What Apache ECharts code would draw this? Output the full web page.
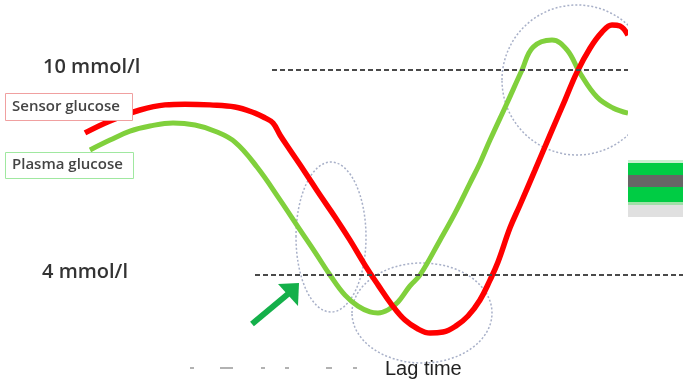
<!DOCTYPE html>
<html>
<head>
<meta charset="utf-8">
<script src="https://cdn.jsdelivr.net/npm/echarts@6/dist/echarts.min.js"></script>
<style>
  html, body { margin: 0; padding: 0; background: #fff; }
  #chart { width: 683px; height: 385px; }
</style>
</head>
<body>
<div id="chart"></div>
<script>
// time (arbitrary units) and glucose (mmol/l)
var sensorTime = [85, 110, 140, 165, 185, 210, 235, 255, 265, 273, 280, 290, 305, 320, 335, 350, 365, 378, 392, 405,
  418, 430, 443, 456, 468, 480, 490, 498, 510, 520, 535, 550, 565, 577, 590, 602, 612, 620, 628];
var sensorGlucose = [8.16, 8.51, 8.83, 8.98, 9.00, 8.98, 8.92, 8.74, 8.60, 8.45, 8.10, 7.66, 7.01, 6.34, 5.70, 5.02, 4.29, 3.71, 3.12, 2.68,
  2.42, 2.30, 2.33, 2.51, 2.80, 3.27, 3.85, 4.38, 5.38, 6.05, 7.07, 8.10, 9.12, 9.94, 10.64, 11.11, 11.32, 11.29, 11.02];

var plasmaTime = [90, 110, 130, 150, 173, 195, 215, 235, 257, 280, 300, 315, 330, 345, 358, 370, 378, 388, 398, 410,
  420, 440, 455, 470, 480, 490, 507, 522, 533, 552, 567, 580, 597, 613, 628];
var plasmaGlucose = [7.66, 7.95, 8.21, 8.36, 8.45, 8.39, 8.21, 7.89, 7.16, 6.20, 5.32, 4.67, 4.00, 3.41, 3.09, 2.92, 2.89, 2.98, 3.21, 3.68,
  4.00, 5.02, 5.81, 6.69, 7.28, 7.95, 9.03, 10.00, 10.67, 10.88, 10.59, 9.91, 9.21, 8.89, 8.74];

// threshold lines: [level, start time, end time]
var thresholds = [[10, 272, 628], [4, 255, 683]];
var thresholdLabels = ["10 mmol/l", "4 mmol/l"];

function zip(xs, ys) {
  return xs.map(function (x, i) { return [x, ys[i]]; });
}

var myChart = echarts.init(document.getElementById("chart"));

var option = {
  animation: false,
  backgroundColor: "#ffffff",
  grid: { left: 0, right: 0, top: 0, bottom: 0 },
  xAxis: { type: "value", min: 0, max: 683, show: false },
  yAxis: { type: "value", min: 0.78, max: 12.05, show: false },
  series: [
    {
      name: "Plasma glucose",
      type: "line",
      data: zip(plasmaTime, plasmaGlucose),
      smooth: 0.4,
      showSymbol: false,
      z: 3,
      lineStyle: { color: "#80d03c", width: 5 },
      markLine: {
        silent: true,
        symbol: "none",
        label: { show: false },
        lineStyle: { color: "#4a4a4a", type: [5, 3], width: 2 },
        data: thresholds.map(function (t) {
          return [{ coord: [t[1], t[0]] }, { coord: [t[2], t[0]] }];
        })
      }
    },
    {
      name: "Sensor glucose",
      type: "line",
      data: zip(sensorTime, sensorGlucose),
      smooth: 0.4,
      showSymbol: false,
      z: 4,
      lineStyle: { color: "#ff0000", width: 5.5 }
    }
  ],
  graphic: [
    // dotted rings
    { type: "ellipse", z: 1, shape: { cx: 331, cy: 237, rx: 35, ry: 75 },
      style: { fill: "none", stroke: "#a8b0c8", lineWidth: 1.5, lineDash: [2, 2] } },
    { type: "ellipse", z: 1, shape: { cx: 422, cy: 313, rx: 70, ry: 50 },
      style: { fill: "none", stroke: "#a8b0c8", lineWidth: 1.5, lineDash: [2, 2] } },
    { type: "ellipse", z: 1, shape: { cx: 577, cy: 80, rx: 75, ry: 75 },
      style: { fill: "none", stroke: "#a8b0c8", lineWidth: 1.5, lineDash: [2, 2] } },
    // cut-off panel on the right
    { type: "rect", z: 10, shape: { x: 628, y: 0, width: 55, height: 160 }, style: { fill: "#ffffff" } },
    { type: "rect", z: 11, shape: { x: 628, y: 160, width: 55, height: 3 }, style: { fill: "#c8f0d0" } },
    { type: "rect", z: 11, shape: { x: 628, y: 163, width: 55, height: 12 }, style: { fill: "#00cc44" } },
    { type: "rect", z: 11, shape: { x: 628, y: 175, width: 55, height: 12 }, style: { fill: "#666666" } },
    { type: "rect", z: 11, shape: { x: 628, y: 187, width: 55, height: 15 }, style: { fill: "#00cc44" } },
    { type: "rect", z: 11, shape: { x: 628, y: 202, width: 55, height: 3 }, style: { fill: "#a0e0a8" } },
    { type: "rect", z: 11, shape: { x: 628, y: 205, width: 55, height: 12 }, style: { fill: "#e0e0e0" } },
    // level labels
    { type: "text", left: 43, top: 57, z: 12,
      style: { text: thresholdLabels[0], font: "600 20px 'Open Sans'", fill: "#333" } },
    { type: "text", left: 42, top: 262, z: 12,
      style: { text: thresholdLabels[1], font: "600 20px 'Open Sans'", fill: "#333" } },
    // legend boxes
    { type: "rect", z: 12, shape: { x: 5.5, y: 93.5, width: 127, height: 27 },
      style: { fill: "#fff", stroke: "#f0a0a0", lineWidth: 1 } },
    { type: "text", left: 12, top: 99, z: 13,
      style: { text: "Sensor glucose", font: "600 15px 'Open Sans'", fill: "#444" } },
    { type: "rect", z: 12, shape: { x: 5.5, y: 152.5, width: 128, height: 26 },
      style: { fill: "#fff", stroke: "#a0e8a0", lineWidth: 1 } },
    { type: "text", left: 12, top: 157, z: 13,
      style: { text: "Plasma glucose", font: "600 15px 'Open Sans'", fill: "#444" } },
    // green arrow
    { type: "line", z: 12, shape: { x1: 252, y1: 324, x2: 288, y2: 294 },
      style: { stroke: "#14b04a", lineWidth: 6 } },
    { type: "polygon", z: 12, shape: { points: [[278, 284], [299, 283], [298, 306]] },
      style: { fill: "#14b04a" } },
    // faint marks along the bottom
    { type: "line", shape: { x1: 190, y1: 368, x2: 194, y2: 368 }, style: { stroke: "#999", lineWidth: 1.5 } },
    { type: "line", shape: { x1: 220, y1: 368, x2: 233, y2: 368 }, style: { stroke: "#999", lineWidth: 1.5 } },
    { type: "line", shape: { x1: 261, y1: 368, x2: 265, y2: 368 }, style: { stroke: "#999", lineWidth: 1.5 } },
    { type: "line", shape: { x1: 285, y1: 368, x2: 289, y2: 368 }, style: { stroke: "#999", lineWidth: 1.5 } },
    { type: "line", shape: { x1: 326, y1: 368, x2: 332, y2: 368 }, style: { stroke: "#999", lineWidth: 1.5 } },
    { type: "line", shape: { x1: 353, y1: 368, x2: 357, y2: 368 }, style: { stroke: "#999", lineWidth: 1.5 } },
    { type: "text", left: 385, top: 359, z: 12,
      style: { text: "Lag time", font: "20px 'Liberation Sans'", fill: "#222" } }
  ]
};

myChart.setOption(option);
</script>
</body>
</html>
